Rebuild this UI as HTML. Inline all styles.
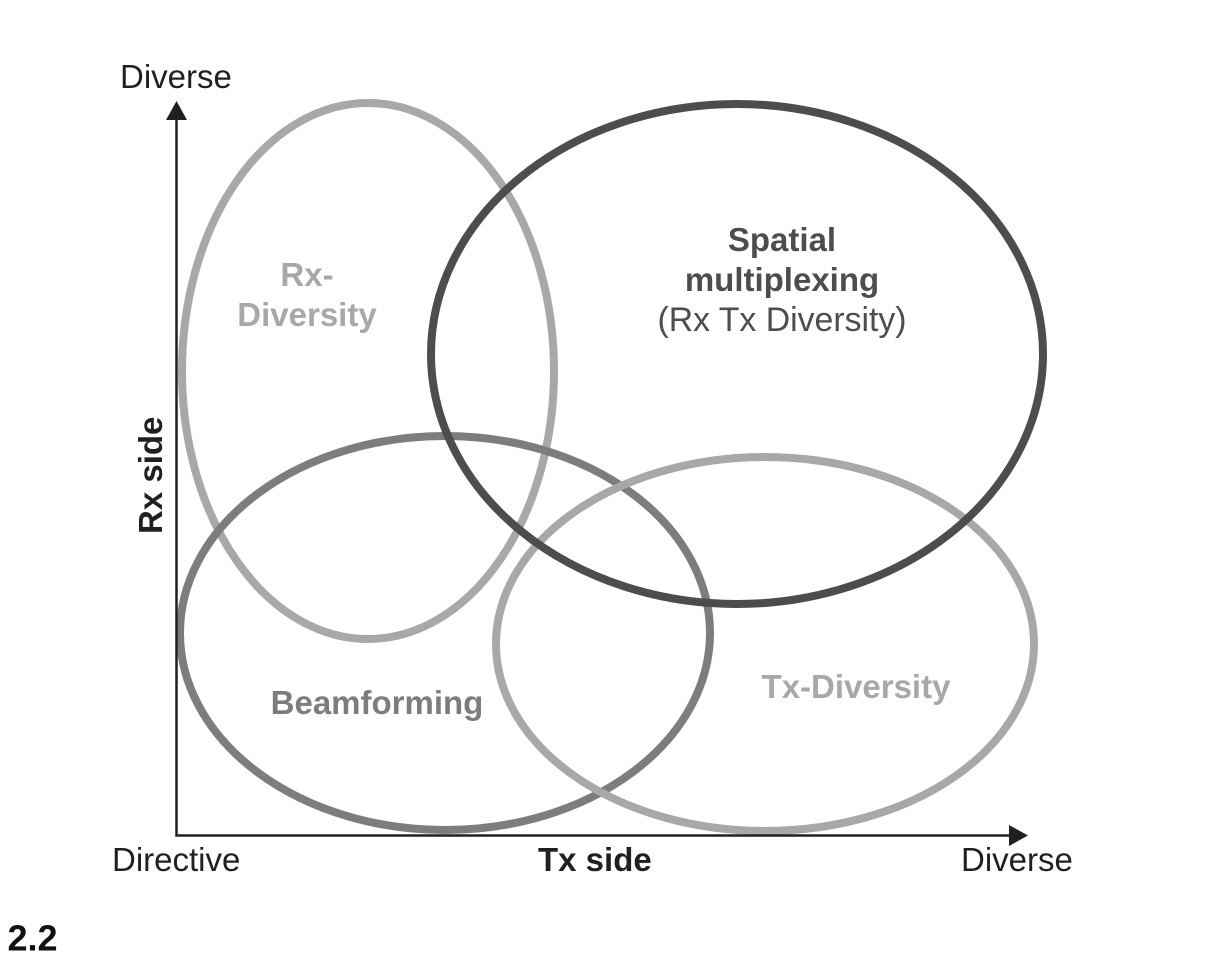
<!DOCTYPE html>
<html>
<head>
<meta charset="utf-8">
<style>
html,body{margin:0;padding:0;background:#fff;width:1224px;height:960px;overflow:hidden}
svg{display:block}
text{font-family:"Liberation Sans",Arial,sans-serif}
</style>
</head>
<body>
<svg width="1224" height="960" viewBox="0 0 1224 960" xmlns="http://www.w3.org/2000/svg">
<g fill="none">
<ellipse cx="368" cy="371" rx="186" ry="268" stroke="#a8a8a8" stroke-width="8"/>
<ellipse cx="445" cy="633" rx="265" ry="197" stroke="#7d7d7d" stroke-width="8"/>
<ellipse cx="765" cy="644" rx="269" ry="187" stroke="#a8a8a8" stroke-width="8"/>
<ellipse cx="737" cy="354" rx="306" ry="250" stroke="#4d4d4d" stroke-width="8"/>
</g>
<path d="M176.500 118V835.500H1010" fill="none" stroke="#231f20" stroke-width="2.500"/>
<polygon points="176.500,101 166,120 187,120" fill="#231f20"/>
<polygon points="1028,835.500 1009,825 1009,846" fill="#231f20"/>
<g font-size="33" fill="#231f20">
<text x="120" y="88">Diverse</text>
<text x="112" y="871">Directive</text>
<text x="961" y="871">Diverse</text>
</g>
<text x="538" y="871" font-size="33" font-weight="bold" fill="#231f20">Tx side</text>
<text transform="translate(162,534) rotate(-90)" font-size="33" font-weight="bold" fill="#231f20">Rx side</text>
<g font-size="33" font-weight="bold" text-anchor="middle">
<text x="307" y="286" fill="#a8a8a8">Rx-</text>
<text x="307" y="326" fill="#a8a8a8">Diversity</text>
<text x="782" y="251" fill="#4d4d4d">Spatial</text>
<text x="782" y="291" fill="#4d4d4d">multiplexing</text>
<text x="377" y="714" fill="#7d7d7d">Beamforming</text>
<text x="856" y="698" fill="#a8a8a8">Tx-Diversity</text>
</g>
<text x="782" y="331" font-size="33.800" text-anchor="middle" fill="#4d4d4d">(Rx Tx Diversity)</text>
<text x="7.500" y="950.500" font-size="36" font-weight="bold" fill="#111">2.2</text>
</svg>
</body>
</html>
